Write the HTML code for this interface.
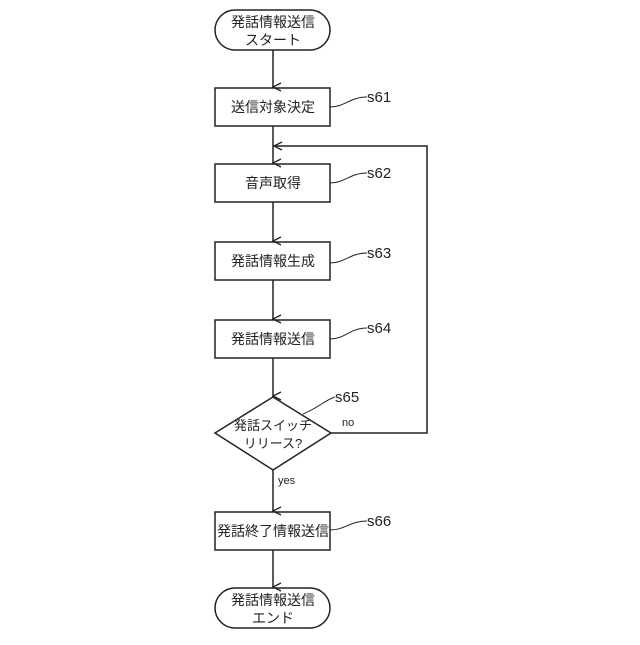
<!DOCTYPE html>
<html><head><meta charset="utf-8"><style>
body{margin:0;background:#fff;}
svg text{font-family:"Liberation Sans","Noto Sans CJK JP",sans-serif;fill:#222;}
</style></head><body>
<svg width="640" height="640" viewBox="0 0 640 640" xmlns="http://www.w3.org/2000/svg">
<defs><marker id="a" markerWidth="10" markerHeight="10" refX="5" refY="9" orient="auto" markerUnits="userSpaceOnUse"><path d="M1,1 L5,9 L9,1" fill="none" stroke="#222" stroke-width="1.3"/></marker>
<marker id="l" markerWidth="10" markerHeight="10" refX="9" refY="5" orient="auto" markerUnits="userSpaceOnUse"><path d="M1,1 L9,5 L1,9" fill="none" stroke="#222" stroke-width="1.3"/></marker></defs>
<g stroke="#222" stroke-width="1.5" fill="none">
<rect x="215" y="10" width="115" height="40" rx="20"/>
<rect x="215" y="88" width="115" height="38"/>
<rect x="215" y="164" width="115" height="38"/>
<rect x="215" y="242" width="115" height="38"/>
<rect x="215" y="320" width="115" height="38"/>
<path d="M273,397 L331,433 L273,470 L215,433 Z"/>
<rect x="215" y="512" width="115" height="38"/>
<rect x="215" y="588" width="115" height="40" rx="20"/>
<line x1="273" y1="50" x2="273" y2="87" marker-end="url(#a)"/>
<line x1="273" y1="126" x2="273" y2="163" marker-end="url(#a)"/>
<line x1="273" y1="202" x2="273" y2="241" marker-end="url(#a)"/>
<line x1="273" y1="280" x2="273" y2="319" marker-end="url(#a)"/>
<line x1="273" y1="358" x2="273" y2="396" marker-end="url(#a)"/>
<line x1="273" y1="470" x2="273" y2="511" marker-end="url(#a)"/>
<line x1="273" y1="550" x2="273" y2="587" marker-end="url(#a)"/>
<path d="M331,433 H427 V146 H274" marker-end="url(#l)"/>
<g stroke-width="1">
<path d="M330,107 C345,107 350,97 367,97"/>
<path d="M330,183 C345,183 350,173 367,173"/>
<path d="M330,263 C345,263 350,253 367,253"/>
<path d="M330,339 C345,339 350,328 367,328"/>
<path d="M303,414 C318,408 325,400 335,397"/>
<path d="M330,530 C345,530 350,521 367,521"/>
</g></g>
<g font-size="14" text-anchor="middle">
<text x="273" y="27">発話情報送信</text>
<text x="273" y="45">スタート</text>
<text x="273" y="112">送信対象決定</text>
<text x="273" y="188">音声取得</text>
<text x="273" y="266">発話情報生成</text>
<text x="273" y="344">発話情報送信</text>
<text x="273" y="430" font-size="13">発話スイッチ</text>
<text x="273" y="448" font-size="13">リリース?</text>
<text x="273" y="536">発話終了情報送信</text>
<text x="273" y="605">発話情報送信</text>
<text x="273" y="623">エンド</text>
</g>
<g font-size="15">
<text x="367" y="102">s61</text>
<text x="367" y="178">s62</text>
<text x="367" y="258">s63</text>
<text x="367" y="333">s64</text>
<text x="335" y="402">s65</text>
<text x="367" y="526">s66</text>
</g>
<g font-size="11"><text x="342" y="426">no</text><text x="278" y="484">yes</text></g>
</svg>
</body></html>
